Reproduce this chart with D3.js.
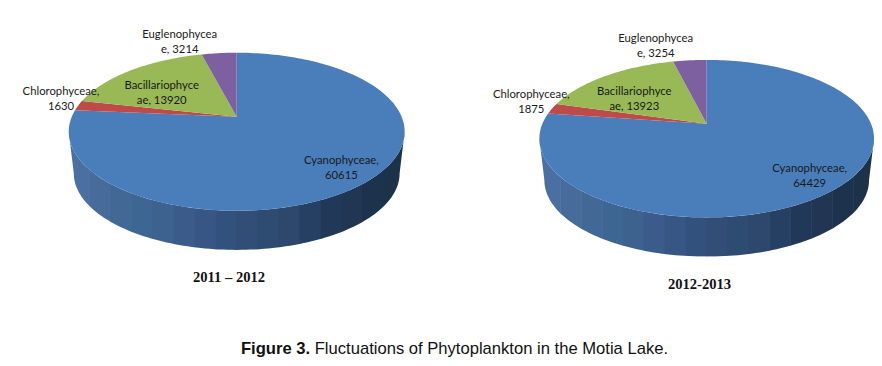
<!DOCTYPE html>
<html>
<head>
<meta charset="utf-8">
<script src="https://cdn.jsdelivr.net/npm/d3@7"></script>
<style>
  html, body { margin: 0; padding: 0; background: #fff; }
  svg { display: block; }
  .label { font-family: Lato, "Open Sans", sans-serif; font-size: 11.3px; fill: #1a1a1a; text-anchor: middle; }
  .year { font-family: "Liberation Serif", serif; font-size: 14.6px; font-weight: bold; fill: #111; text-anchor: middle; }
  .caption { font-family: "Liberation Sans", sans-serif; font-size: 16.6px; fill: #111; text-anchor: middle; }
</style>
</head>
<body>
<div id="root"></div>
<script>
const categories = ['Cyanophyceae', 'Chlorophyceae', 'Bacillariophyceae', 'Euglenophyceae']
const values2011 = [60615, 1630, 13920, 3214]
const values2012 = [64429, 1875, 13923, 3254]
const colors = ['#4a7ebb', '#be4b48', '#98b954', '#7d60a0']
const sideColors = ['#4a70a0', '#436a98', '#3c6690', '#3c5c8c', '#33537c', '#2f4b74', '#2e4a70', '#24395a', '#1f3350', '#1e3049']

const width = 882
const height = 366

const svg = d3.select('#root').append('svg')
  .attr('width', width)
  .attr('height', height)
  .attr('viewBox', `0 0 ${width} ${height}`)

const defs = svg.append('defs')
defs.append('filter')
  .attr('id', 'soft')
  .append('feGaussianBlur')
  .attr('stdDeviation', 0.35)

const pie = d3.pie().sort(null)
const line = d3.line()

// Perspective projection of the unit disc, apex of the pie at (0, 0)
function project (angle, layout, scale = 1) {
  const u = Math.sin(angle)
  const v = -Math.cos(angle)
  const w = 1 - layout.k * v
  return [layout.a * scale * u / w, layout.b * scale * v / w]
}

function drawPie (id, layout, values, labels, year) {
  const g = svg.append('g')
    .attr('transform', `translate(${layout.x}, ${layout.y})`)
  const marks = g.append('g').attr('filter', 'url(#soft)')

  // Outline of the side wall: front rim of the top face, then of the bottom face
  const tangent = Math.acos(-layout.k)
  const rimAngles = d3.range(121).map(i => tangent + (2 * Math.PI - 2 * tangent) * i / 120)
  const topRim = rimAngles.map(t => project(t, layout))
  const bottomRim = rimAngles.map(t => {
    const [x, y] = project(t, layout, layout.s)
    return [x, y + layout.d]
  }).reverse()
  defs.append('clipPath')
    .attr('id', id)
    .append('path')
    .attr('d', line([...topRim, ...bottomRim]) + 'Z')

  // Wall shading is made of vertical bands
  const halfWidth = d3.max(topRim, d => Math.abs(d[0]))
  const bands = d3.range(16)
  const xBand = d3.scaleBand()
    .domain(bands)
    .range([-halfWidth, halfWidth])
  const bandColor = d3.scaleSequential(d3.interpolateRgbBasis(sideColors))
    .domain([0, bands.length - 1])
  marks.append('g')
    .attr('clip-path', `url(#${id})`)
    .selectAll('rect')
    .data(bands)
    .enter()
    .append('rect')
    .attr('x', d => xBand(d))
    .attr('y', 0)
    .attr('width', xBand.bandwidth() + 0.5)
    .attr('height', layout.b * 2)
    .attr('fill', d => bandColor(d))

  // Top face
  marks.append('g')
    .selectAll('path')
    .data(pie(values))
    .enter()
    .append('path')
    .attr('d', d => {
      const n = Math.max(4, Math.ceil((d.endAngle - d.startAngle) * 40))
      const rim = d3.range(n + 1)
        .map(i => project(d.startAngle + (d.endAngle - d.startAngle) * i / n, layout))
      return line([[0, 0], ...rim]) + 'Z'
    })
    .attr('fill', (d, i) => colors[i])

  labels.forEach(l => {
    const text = g.append('text')
      .attr('class', 'label')
      .attr('x', l.x)
      .attr('y', l.y)
    l.lines.forEach((s, i) => {
      text.append('tspan')
        .attr('x', l.x)
        .attr('dy', i === 0 ? 0 : 15)
        .text(s)
    })
  })

  g.append('text')
    .attr('class', 'year')
    .attr('x', layout.yearX)
    .attr('y', layout.yearY)
    .text(year)
}

drawPie(
  'wall-left',
  { x: 236.7, y: 116.7, a: 164.9, b: 76.15, k: 0.19, s: 0.97, d: 42, yearX: -7.7, yearY: 165 },
  values2011,
  [
    { x: 104.7, y: 47, lines: [`${categories[0]},`, `${values2011[0]}`] },
    { x: -175.7, y: -22, lines: [`${categories[1]},`, `${values2011[1]}`] },
    { x: -75, y: -27.5, lines: ['Bacillariophyce', `ae, ${values2011[2]}`] },
    { x: -57, y: -79, lines: ['Euglenophycea', `e, ${values2011[3]}`] }
  ],
  '2011 – 2012'
)

drawPie(
  'wall-right',
  { x: 706.7, y: 123.7, a: 164.3, b: 75.9, k: 0.19, s: 0.97, d: 42, yearX: -7.2, yearY: 165.3 },
  values2012,
  [
    { x: 103, y: 48, lines: [`${categories[0]},`, `${values2012[0]}`] },
    { x: -175.4, y: -26, lines: [`${categories[1]},`, `${values2012[1]}`] },
    { x: -72.4, y: -28.7, lines: ['Bacillariophyce', `ae, ${values2012[2]}`] },
    { x: -51, y: -82, lines: ['Euglenophycea', `e, ${values2012[3]}`] }
  ],
  '2012-2013'
)

const caption = svg.append('text')
  .attr('class', 'caption')
  .attr('x', 454.5)
  .attr('y', 354)
caption.append('tspan').attr('font-weight', 'bold').text('Figure 3.')
caption.append('tspan').text(' Fluctuations of Phytoplankton in the Motia Lake.')
</script>
</body>
</html>
